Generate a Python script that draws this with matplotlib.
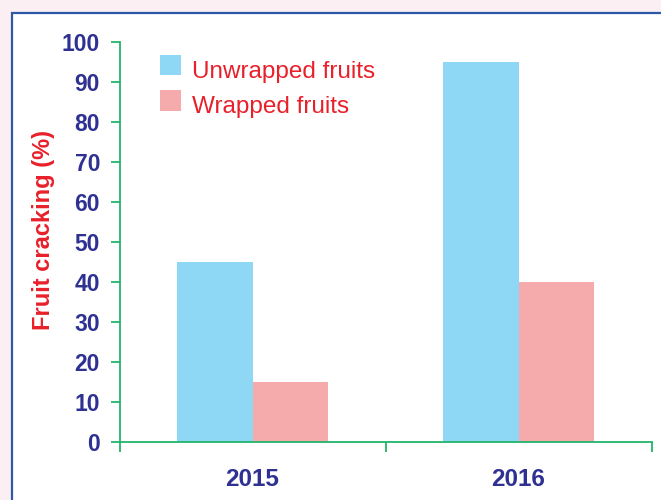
import matplotlib
matplotlib.use("Agg")
import matplotlib.pyplot as plt
from matplotlib.patches import Rectangle, Patch
from matplotlib.transforms import ScaledTranslation

plt.rcParams['font.family'] = ['Liberation Sans', 'DejaVu Sans']

years = ['2015', '2016']
unwrapped = [45, 95]
wrapped = [15, 40]
series_labels = ['Unwrapped fruits', 'Wrapped fruits']
y_ticks = list(range(0, 101, 10))

c_blue = '#8ED8F6'
c_pink = '#F5ABAC'
c_navy = '#2E3192'
c_red = '#E8202A'
c_green = '#22B46A'
c_border = '#2C5AA6'
c_bg = '#FCEFF3'

fig = plt.figure(figsize=(6.61, 5.0), dpi=100)
fig.patch.set_facecolor(c_bg)

# white panel with blue border
fig.patches.append(Rectangle((12/661, -0.05), 1.1, 1 - 13/500 + 0.05,
                             transform=fig.transFigure, facecolor='white',
                             edgecolor=c_border, linewidth=1.6, zorder=-10))

ax = fig.add_axes([119.5/661, 1 - 442/500, 532/661, 400/500])
ax.set_facecolor('none')
ax.set_zorder(5)

x = list(range(len(years)))
w = 0.282
ax.bar([i - w/2 for i in x], unwrapped, width=w, color=c_blue, label=series_labels[0], zorder=2)
ax.bar([i + w/2 for i in x], wrapped, width=w, color=c_pink, label=series_labels[1], zorder=2)

ax.set_ylim(0, 100)
ax.set_xlim(-0.5, len(years) - 0.5)

for s in ['top', 'right']:
    ax.spines[s].set_visible(False)
for s in ['left', 'bottom']:
    ax.spines[s].set_color(c_green)
    ax.spines[s].set_linewidth(1.3)

ax.set_yticks(y_ticks)
ax.set_yticklabels([str(v) for v in y_ticks], fontsize=16.5, fontweight='bold', color=c_navy)
ax.tick_params(axis='y', direction='out', length=6.5, width=1.3, color=c_green, pad=7.5)

ax.set_xticks([i - 0.5 for i in range(len(years) + 1)])
ax.set_xticklabels([''] * (len(years) + 1))
ax.set_xticks(x, minor=True)
ax.set_xticklabels(years, minor=True, fontsize=17.5, fontweight='bold', color=c_navy)
ax.tick_params(axis='x', which='major', direction='out', length=7, width=1.3, color=c_green)
ax.tick_params(axis='x', which='minor', length=0, pad=19)

fig.text(44/661, 1 - 230/500, 'Fruit cracking (%)', rotation=90, ha='center', va='center',
         fontsize=17, fontweight='bold', color=c_red)

handles = [Patch(facecolor=c_blue, edgecolor='none'), Patch(facecolor=c_pink, edgecolor='none')]
leg = ax.legend(handles, series_labels, loc='upper left', bbox_to_anchor=(160/661, 1 - 55/500),
                bbox_transform=fig.transFigure, frameon=False, fontsize=17.5,
                handlelength=0.86, handleheight=0.92, handletextpad=0.45,
                labelspacing=0.47, borderpad=0, borderaxespad=0)
for t in leg.get_texts():
    t.set_color(c_red)
    t.set_transform(t.get_transform() + ScaledTranslation(0, -4/100, fig.dpi_scale_trans))

fig.savefig('out.png', dpi=100, facecolor=fig.get_facecolor())
